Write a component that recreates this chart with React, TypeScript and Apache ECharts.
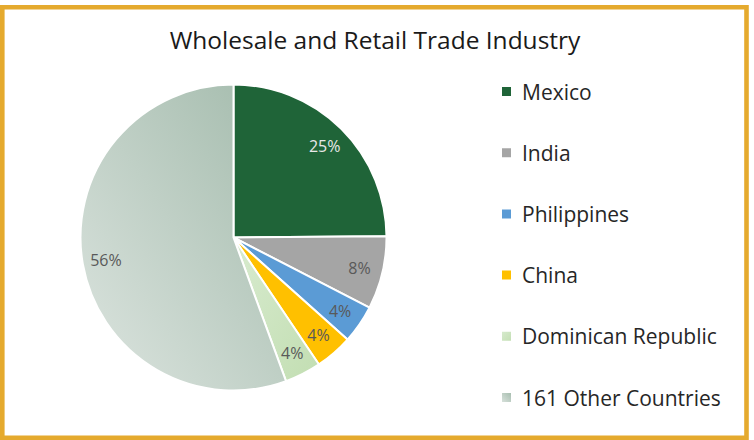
import React, { useEffect, useRef } from "react";
import * as echarts from "echarts";

const categories = ["Mexico", "India", "Philippines", "China", "Dominican Republic", "161 Other Countries"];
const shares = [25.2, 7.8, 4.1, 4.0, 3.9, 56.3];
const labelColors = ["#E8E8E8", "#595959", "#595959", "#595959", "#595959", "#595959"];
const titleText = "Wholesale and Retail Trade Industry";

const FONT = "'Open Sans', 'Noto Sans', sans-serif";

const sliceColors: any[] = [
  "#1F6438",
  "#A5A5A5",
  "#5B9BD5",
  "#FFC000",
  new echarts.graphic.LinearGradient(0, 0, 1, 1, [
    { offset: 0, color: "#D8EBCF" },
    { offset: 1, color: "#C2DEB2" },
  ]),
  new echarts.graphic.LinearGradient(1, 0, 0, 1, [
    { offset: 0, color: "#A2BAAB" },
    { offset: 1, color: "#DDE5E0" },
  ]),
];

export default function App() {
  const ref = useRef<HTMLDivElement>(null);
  useEffect(() => {
    document.body.style.margin = "0";
    const chart = echarts.init(ref.current!, null, { renderer: "svg" });
    const center = [233.5, 237.5];
    const data = categories.map((name, i) => ({
      name,
      value: shares[i],
      itemStyle: { color: sliceColors[i] },
    }));
    const labelData = categories.map((name, i) => ({
      name,
      value: shares[i],
      label: { color: labelColors[i] },
    }));
    chart.setOption({
      animation: false,
      title: {
        text: titleText,
        left: 375,
        textAlign: "center",
        top: 27,
        padding: 0,
        textStyle: { fontFamily: FONT, fontSize: 24.5, fontWeight: "normal", color: "#1A1A1A" },
      },
      legend: {
        orient: "vertical",
        left: 500,
        top: 81,
        padding: 0,
        itemWidth: 11,
        itemHeight: 11,
        itemGap: 40.2,
        icon: "rect",
        data: categories,
        textStyle: {
          fontFamily: FONT,
          fontSize: 21,
          lineHeight: 20,
          color: "#262626",
          padding: [0, 0, 0, 5],
        },
      },
      graphic: [
        {
          type: "rect",
          shape: { x: 2.3, y: 7.3, width: 744.2, height: 430.5 },
          style: { fill: "none", stroke: "#E5AA2E", lineWidth: 4.6 },
          silent: true,
          z: 10,
        },
      ],
      series: [
        {
          type: "pie",
          center,
          radius: [0, 153],
          startAngle: 90,
          clockwise: true,
          data,
          label: { show: false },
          labelLine: { show: false },
          itemStyle: { borderColor: "#FFFFFF", borderWidth: 2 },
          emphasis: { disabled: true },
        },
        {
          type: "pie",
          center,
          radius: [100, 153],
          startAngle: 90,
          clockwise: true,
          silent: true,
          data: labelData,
          itemStyle: { color: "rgba(0,0,0,0)", borderWidth: 0 },
          label: {
            show: true,
            position: "inside",
            fontFamily: FONT,
            fontSize: 16,
            formatter: (p: any) => Math.round(p.percent) + "%",
          },
          labelLine: { show: false },
          emphasis: { disabled: true },
          legendHoverLink: false,
        },
      ],
    });
    return () => chart.dispose();
  }, []);
  return <div ref={ref} style={{ width: 754, height: 440, background: "#FFFFFF" }} />;
}
